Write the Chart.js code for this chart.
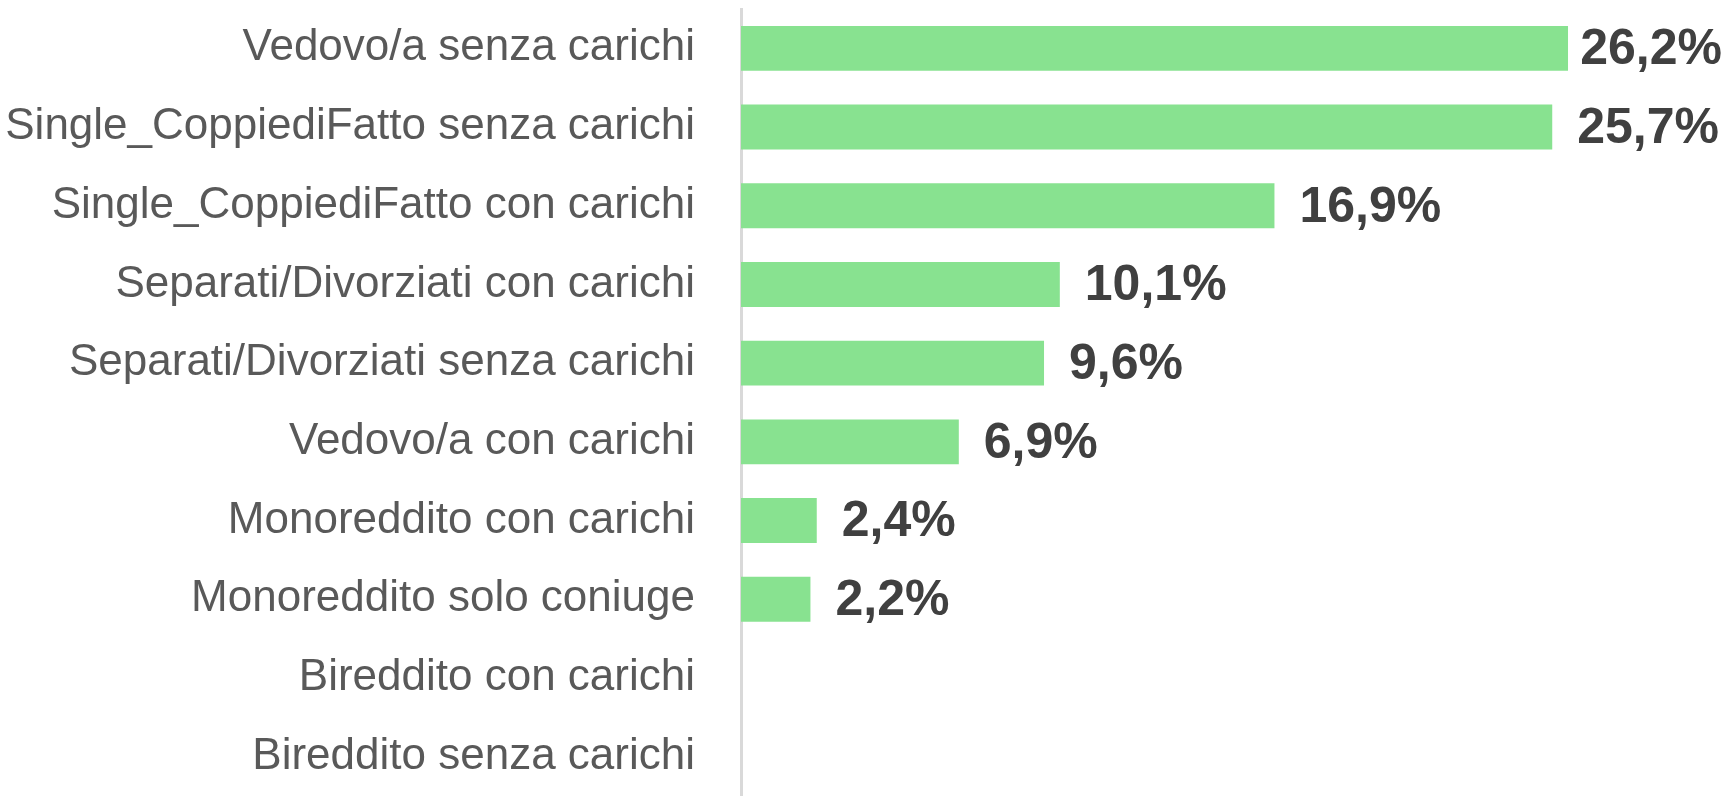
<!DOCTYPE html>
<html>
<head>
<meta charset="utf-8">
<script src="https://cdn.jsdelivr.net/npm/chart.js@4"></script>
<style>
    html, body { margin: 0; padding: 0; background: #fff; }
    #wrap { width: 1729px; height: 796px; position: relative; }
</style>
</head>
<body>
<div id="wrap"><canvas id="barChart"></canvas></div>
<script>
// Data
const categories = [
    'Vedovo/a senza carichi',
    'Single_CoppiediFatto senza carichi',
    'Single_CoppiediFatto con carichi',
    'Separati/Divorziati con carichi',
    'Separati/Divorziati senza carichi',
    'Vedovo/a con carichi',
    'Monoreddito con carichi',
    'Monoreddito solo coniuge',
    'Bireddito con carichi',
    'Bireddito senza carichi'
];
const shares = [26.2, 25.7, 16.9, 10.1, 9.6, 6.9, 2.4, 2.2, 0, 0];

const fmt = v => v.toFixed(1).replace('.', ',') + '%';

// Value labels next to the bars
const valueLabels = {
    id: 'valueLabels',
    afterDatasetsDraw(chart) {
        const ctx = chart.ctx;
        const meta = chart.getDatasetMeta(0);
        ctx.save();
        ctx.font = 'bold 50px "Liberation Sans", Arial, sans-serif';
        ctx.fillStyle = '#404040';
        ctx.textBaseline = 'middle';
        ctx.textAlign = 'left';
        meta.data.forEach((bar, i) => {
            const v = shares[i];
            if (!v) return;
            const txt = fmt(v);
            const w = ctx.measureText(txt).width;
            let x = bar.x + 25;
            if (x + w > chart.width - 7) x = chart.width - 7 - w;
            ctx.fillText(txt, x, bar.y + 2);
        });
        ctx.restore();
    }
};

const ctx = document.getElementById('barChart').getContext('2d');
new Chart(ctx, {
    type: 'bar',
    data: {
        labels: categories,
        datasets: [{
            data: shares,
            backgroundColor: '#88E290',
            borderWidth: 0,
            barPercentage: 0.57,
            categoryPercentage: 1
        }]
    },
    options: {
        indexAxis: 'y',
        responsive: true,
        maintainAspectRatio: false,
        animation: false,
        layout: { padding: { top: 9, bottom: 0, left: 0, right: 0 } },
        plugins: {
            legend: { display: false },
            tooltip: { enabled: false }
        },
        scales: {
            x: {
                display: false,
                min: 0,
                max: 31.3
            },
            y: {
                grid: { display: false },
                border: { display: true, color: '#D9D9D9', width: 3 },
                afterFit(scale) {
                    scale.width = 741;
                    // no extra room above/below for the tick labels
                    scale.paddingTop = 0;
                    scale.paddingBottom = 0;
                },
                ticks: {
                    padding: 38,
                    color: '#595959',
                    font: { family: '"Liberation Sans", Arial, sans-serif', size: 44 }
                }
            }
        }
    },
    plugins: [valueLabels]
});
</script>
</body>
</html>
